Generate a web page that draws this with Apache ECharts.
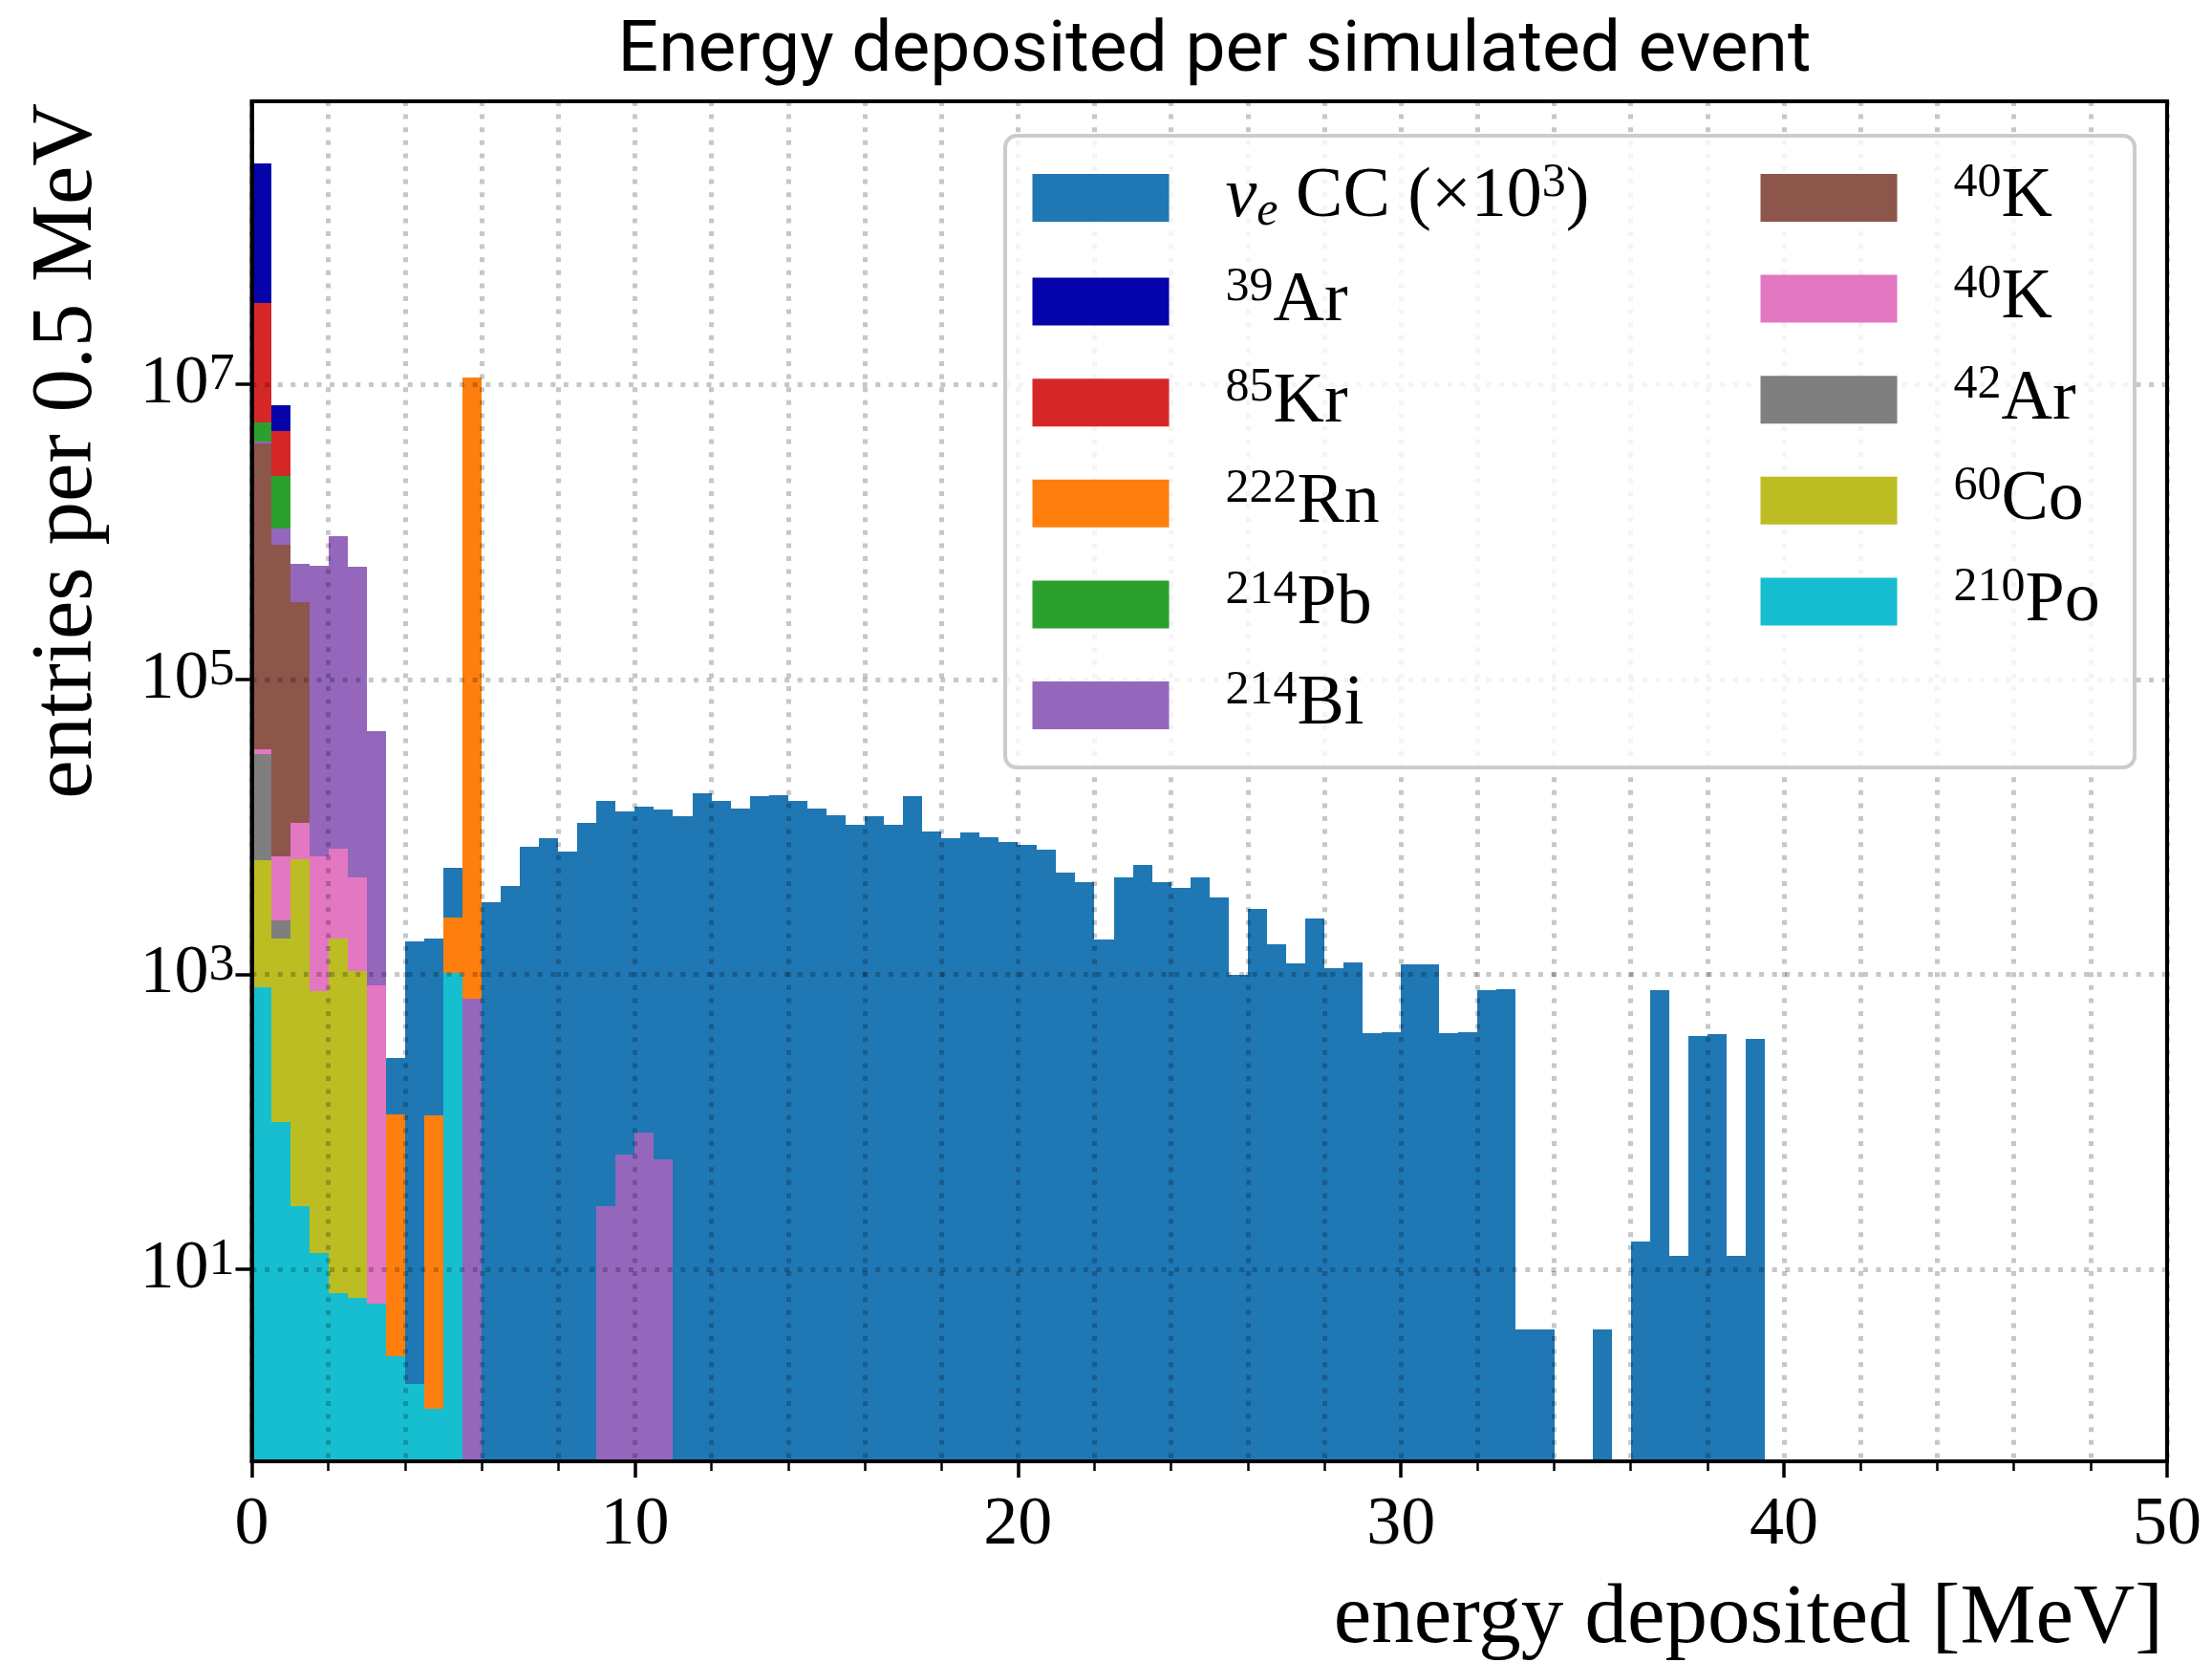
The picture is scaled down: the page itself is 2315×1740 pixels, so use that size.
<!DOCTYPE html>
<html>
<head>
<meta charset="utf-8">
<script src="https://cdn.jsdelivr.net/npm/echarts@6/dist/echarts.min.js"></script>
<style>
  html, body { margin: 0; padding: 0; background: #ffffff; }
  #chart { width: 2315px; height: 1740px; }
</style>
</head>
<body>
<div id="chart"></div>
<script>
// Energy deposited per simulated event: stacked histogram, 0.5 MeV bins from 0 to 50 MeV.
const BIN_WIDTH = 0.5;
const N_BINS = 100;
const Y_MIN = 0.5;
const Y_MAX = 8.3e8;

// Entries per bin (index i covers [0.5*i, 0.5*(i+1)) MeV); bins past the end of a list are empty.
const po210 = [817, 100, 27, 13, 6.9, 6.4, 5.85, 2.57, 1.68, 1.14, 1016];
const co60 = [5150, 1640, 6040, 763, 1750, 1040];
const ar42 = [25230, 600];
const k40Pink = [2400, 4000, 4630, 5500, 5320, 3520, 835];
const k40Brown = [3.916e6, 8.14e5, 3.22e5];
const bi214 = [1.6e5, 2.4e5, 2.77e5, 5.8e5, 9.35e5, 5.73e5, 43760, 0, 0, 0, 0, 683,
               0, 0, 0, 0, 0, 0, 26.8, 60.5, 84.3, 55.4];
const pb214 = [1.42e6, 1.35e6];
const rn222 = [0, 0, 0, 0, 0, 0, 0, 110, 0, 110, 1424, 1.12e7];
const kr85 = [2.99e7, 2.43e6];
const ar39 = [2.79e8, 2.36e6];
const nueCC = [
  0, 0, 0, 0, 0, 0, 200, 160, 1673, 1629,
  2850, 3000, 3080, 3990, 7290, 8360, 6760, 10700, 15070, 12640,
  13720, 13140, 11800, 16800, 15100, 13300, 16100, 16500, 15000, 13400,
  12000, 10400, 11800, 10400, 16200, 9270, 8360, 9170, 8540, 7880,
  7520, 7050, 4900, 4250, 1730, 4550, 5490, 4200, 3850, 4550,
  3340, 1000, 2770, 1610, 1190, 2410, 1110, 1200, 402, 406,
  1175, 1170, 402, 406, 787, 790, 3.9, 3.9, 0, 0,
  3.9, 0, 15.4, 780, 12.4, 380, 395, 12.4, 368
];

// Axis ticks
const X_MAJOR_STEP = 10;
const Y_TICKS = [1e1, 1e3, 1e5, 1e7];

// Stacking order, bottom to top
const STACK = [
  { name: 'po210', counts: po210, color: '#17becf' },
  { name: 'co60', counts: co60, color: '#bcbd22' },
  { name: 'ar42', counts: ar42, color: '#7f7f7f' },
  { name: 'k40_b', counts: k40Pink, color: '#e377c2' },
  { name: 'k40_a', counts: k40Brown, color: '#8c564b' },
  { name: 'bi214', counts: bi214, color: '#9467bd' },
  { name: 'pb214', counts: pb214, color: '#2ca02c' },
  { name: 'rn222', counts: rn222, color: '#ff7f0e' },
  { name: 'kr85', counts: kr85, color: '#d62728' },
  { name: 'ar39', counts: ar39, color: '#0504aa' },
  { name: 'nue_cc', counts: nueCC, color: '#1f77b4' }
];

// Legend text (rich-text markup for isotope superscripts)
const LEGEND_LABELS = {
  nue_cc: '{g| }{nu|ν}{sub|e}{t| CC (×10}{sup|3}{t|)}',
  ar39: '{g| }{sup|39}{t|Ar}',
  kr85: '{g| }{sup|85}{t|Kr}',
  rn222: '{g| }{sup|222}{t|Rn}',
  pb214: '{g| }{sup|214}{t|Pb}',
  bi214: '{g| }{sup|214}{t|Bi}',
  k40_a: '{g| }{sup|40}{t|K}',
  k40_b: '{g| }{sup|40}{t|K}',
  ar42: '{g| }{sup|42}{t|Ar}',
  co60: '{g| }{sup|60}{t|Co}',
  po210: '{g| }{sup|210}{t|Po}'
};
const LEGEND_COL1 = ['nue_cc', 'ar39', 'kr85', 'rn222', 'pb214', 'bi214'];
const LEGEND_COL2 = ['k40_a', 'k40_b', 'ar42', 'co60', 'po210'];

const SERIF = '"Liberation Serif", "DejaVu Serif", serif';
const SANS = 'Roboto, "Liberation Sans", sans-serif';

const GRID_LINE = { color: 'rgba(0,0,0,0.22)', width: 5, type: [5, 8.6] };

// One rectangle per bin: [x0, x1, lower edge, upper edge], snapped to whole pixels
function renderBin(params, api) {
  const a = api.coord([api.value(0), api.value(3)]);
  const b = api.coord([api.value(1), api.value(2)]);
  const x0 = Math.round(a[0]);
  const x1 = Math.round(b[0]);
  const y0 = Math.round(a[1]);
  const y1 = Math.round(b[1]);
  return {
    type: 'rect',
    shape: { x: x0, y: y0, width: x1 - x0, height: y1 - y0 },
    style: { fill: api.visual('color') }
  };
}

const running = new Array(N_BINS).fill(0);
const series = STACK.map(function (s) {
  const data = [];
  for (let i = 0; i < N_BINS; i++) {
    const n = s.counts[i] || 0;
    if (n > 0) {
      const lo = running[i];
      const hi = lo + n;
      data.push([i * BIN_WIDTH, (i + 1) * BIN_WIDTH, Math.max(lo, Y_MIN), hi]);
      running[i] = hi;
    }
  }
  return {
    type: 'custom',
    name: s.name,
    renderItem: renderBin,
    data: data,
    encode: { x: [0, 1], y: [2, 3] },
    clip: true,
    silent: true,
    z: 2,
    itemStyle: { color: s.color }
  };
});

const legendRich = {
  g: { width: 54 },
  t: { fontFamily: SERIF, fontSize: 74, lineHeight: 80, color: '#000' },
  sup: { fontFamily: SERIF, fontSize: 50, lineHeight: 46, verticalAlign: 'top', color: '#000' },
  nu: { fontFamily: SERIF, fontStyle: 'italic', fontSize: 74, lineHeight: 80, color: '#000' },
  sub: { fontFamily: SERIF, fontStyle: 'italic', fontSize: 50, lineHeight: 40, verticalAlign: 'bottom', color: '#000' }
};

function legendBlock(names, left) {
  return {
    data: names,
    orient: 'vertical',
    left: left,
    top: 167,
    padding: 0,
    itemWidth: 143,
    itemHeight: 50,
    itemGap: 28.6,
    icon: 'rect',
    selectedMode: false,
    z: 6,
    formatter: function (name) { return LEGEND_LABELS[name]; },
    textStyle: { fontFamily: SERIF, fontSize: 74, color: '#000', rich: legendRich }
  };
}

const chart = echarts.init(document.getElementById('chart'), null, { renderer: 'canvas' });
chart.setOption({
  animation: false,
  backgroundColor: '#ffffff',
  title: {
    text: 'Energy deposited per simulated event',
    left: 1266,
    top: 5,
    textAlign: 'center',
    textStyle: { fontFamily: SANS, fontSize: 75, fontWeight: 'normal', color: '#000', lineHeight: 90 }
  },
  grid: {
    left: 263.5, top: 106, width: 2004.5, height: 1423,
    show: true, borderColor: '#000', borderWidth: 4, backgroundColor: 'transparent'
  },
  legend: [legendBlock(LEGEND_COL1, 1080.5), legendBlock(LEGEND_COL2, 1842.5)],
  xAxis: {
    type: 'value',
    min: 0,
    max: 50,
    interval: X_MAJOR_STEP,
    z: 3,
    axisLine: { onZero: false, lineStyle: { color: '#000', width: 4 } },
    axisTick: { show: true, inside: false, length: 17, lineStyle: { color: '#000', width: 3.5 } },
    minorTick: { show: true, splitNumber: 5, length: 10, lineStyle: { color: '#000', width: 2.5 } },
    axisLabel: { margin: 31, fontFamily: SERIF, fontSize: 72, lineHeight: 72, color: '#000' },
    splitLine: { show: true, lineStyle: GRID_LINE },
    minorSplitLine: { show: true, lineStyle: GRID_LINE }
  },
  yAxis: {
    type: 'log',
    logBase: 10,
    min: Y_MIN,
    max: Y_MAX,
    z: 3,
    axisLine: { lineStyle: { color: '#000', width: 4 } },
    axisTick: { show: true, inside: false, length: 17, customValues: Y_TICKS, lineStyle: { color: '#000', width: 3.5 } },
    axisLabel: {
      margin: 18,
      customValues: Y_TICKS,
      formatter: function (v) { return '{b|10}{s|' + Math.round(Math.log10(v)) + '}'; },
      rich: {
        b: { fontFamily: SERIF, fontSize: 72, lineHeight: 72, color: '#000' },
        s: { fontFamily: SERIF, fontSize: 54, lineHeight: 40, verticalAlign: 'top', color: '#000' }
      }
    },
    splitLine: { show: true, lineStyle: GRID_LINE },
    minorTick: { show: false },
    minorSplitLine: { show: false }
  },
  graphic: [
    {
      type: 'rect',
      z: 5,
      shape: { x: 1052, y: 142, width: 1182, height: 661, r: 12 },
      style: { fill: 'rgba(255,255,255,0.8)', stroke: '#cccccc', lineWidth: 4 }
    },
    {
      type: 'text',
      z: 5,
      x: 2264,
      y: 1695,
      style: {
        text: 'energy deposited [MeV]',
        font: '89px ' + SERIF,
        fill: '#000',
        textAlign: 'right',
        textVerticalAlign: 'middle'
      }
    },
    {
      type: 'text',
      z: 5,
      x: 71,
      y: 108,
      rotation: Math.PI / 2,
      style: {
        text: 'entries per 0.5 MeV',
        font: '91px ' + SERIF,
        fill: '#000',
        textAlign: 'right',
        textVerticalAlign: 'middle'
      }
    }
  ],
  series: series
});
</script>
</body>
</html>
